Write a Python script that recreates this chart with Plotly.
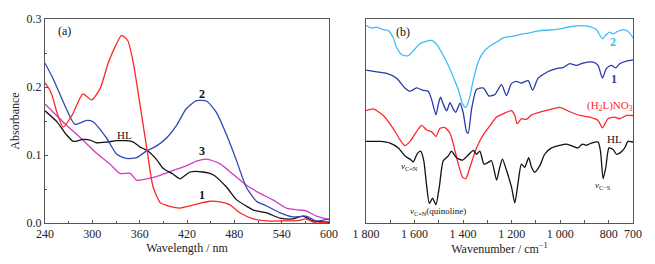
import plotly.graph_objects as go

# ---------- Panel (a): UV-Vis ----------
wl_1 = [240,246,250,255,263,275,288,299,310,320,330,337,345,352,360,369,377,386,394,411,436,449,462,474,487,504,521,540,563,570,584,600]
abs_1 = [0.206,0.196,0.184,0.163,0.141,0.160,0.190,0.181,0.198,0.235,0.262,0.276,0.268,0.235,0.177,0.110,0.053,0.030,0.026,0.022,0.029,0.032,0.031,0.027,0.015,0.006,0.003,0.003,0.004,0.006,0.000,0.002]

wl_2 = [240,250,267,278,293,301,318,331,343,356,369,381,394,407,419,432,445,457,470,483,495,508,521,538,554,571,584,600]
abs_2 = [0.235,0.213,0.168,0.145,0.151,0.149,0.125,0.101,0.095,0.096,0.106,0.113,0.125,0.144,0.168,0.180,0.179,0.163,0.130,0.091,0.053,0.032,0.025,0.015,0.009,0.010,0.003,0.006]

wl_hl = [240,255,267,276,288,297,305,318,331,343,352,360,369,381,390,402,411,424,440,453,470,483,495,504,521,538,554,567,580,600]
abs_hl = [0.165,0.149,0.130,0.120,0.123,0.122,0.118,0.119,0.121,0.121,0.119,0.112,0.107,0.094,0.080,0.072,0.065,0.075,0.075,0.071,0.053,0.034,0.025,0.019,0.015,0.007,0.006,0.010,0.003,0.001]

wl_3 = [240,267,288,305,322,335,348,356,369,386,402,419,432,445,462,478,495,512,529,546,563,571,584,600]
abs_3 = [0.175,0.144,0.122,0.103,0.087,0.073,0.073,0.063,0.065,0.070,0.077,0.084,0.091,0.094,0.087,0.072,0.056,0.044,0.034,0.022,0.019,0.018,0.010,0.005]

# ---------- Panel (b): IR (offset transmittance, arbitrary units) ----------
wn_c2 = [1800,1777,1756,1729,1708,1688,1674,1653,1626,1605,1578,1557,1530,1509,1489,1461,1441,1420,1402,1389,1375,1358,1338,1317,1290,1262,1235,1194,1153,1125,1084,1043,1002,961,919,878,851,826,810,796,782,762,741,721,700]
tr_c2 = [96.8,95.6,96.0,94.8,94.3,90.8,86.0,82.5,82.0,84.4,87.9,88.9,89.5,87.6,83.7,77.3,71.7,65.4,58.3,56.7,60.6,70.2,78.9,83.7,86.8,88.7,90.8,91.6,92.7,93.2,94.3,94.6,95.2,96.2,96.8,96.3,94.8,90.3,92.4,93.6,92.7,94.0,94.8,94.0,90.8]

wn_c1 = [1800,1756,1715,1674,1640,1619,1592,1564,1544,1530,1512,1502,1493,1482,1468,1454,1441,1430,1413,1400,1386,1379,1365,1345,1317,1293,1269,1242,1221,1201,1180,1160,1132,1114,1091,1064,1036,1016,988,961,933,906,865,844,826,810,789,771,755,727,700]
tr_c1 = [74.9,74.1,73.3,71.0,66.2,64.6,66.2,65.0,64.6,60.6,53.0,58.3,61.7,58.3,55.0,59.0,55.9,54.3,58.7,54.3,44.8,44.0,55.9,65.4,66.2,62.2,63.0,67.8,62.5,68.3,69.4,68.6,69.8,65.1,71.0,73.3,74.9,75.7,76.2,78.1,77.3,78.4,78.9,77.3,71.0,75.7,77.3,76.0,78.1,79.4,80.0]

wn_h2l = [1800,1770,1729,1688,1660,1640,1619,1592,1571,1550,1530,1512,1496,1475,1454,1438,1420,1402,1389,1372,1345,1317,1290,1262,1235,1201,1187,1177,1160,1139,1118,1084,1043,1002,961,919,878,844,826,803,776,755,727,700]
tr_h2l = [55.1,55.9,52.7,46.3,40.8,37.9,40.0,44.8,47.9,45.6,44.8,42.4,46.3,46.8,44.0,37.6,28.9,22.5,21.7,27.3,36.8,43.2,47.6,51.9,53.5,55.1,52.7,48.7,51.1,50.8,53.0,54.3,55.6,56.7,54.6,52.7,51.9,50.3,46.7,51.1,51.9,51.1,52.7,52.7]

wn_hl = [1800,1742,1701,1667,1640,1619,1605,1589,1575,1562,1550,1539,1526,1512,1498,1482,1461,1448,1427,1402,1379,1358,1345,1331,1314,1297,1283,1262,1249,1238,1221,1201,1187,1173,1160,1146,1130,1118,1105,1084,1064,1036,1002,974,947,926,909,892,871,844,834,823,812,799,782,768,752,734,721,700]
tr_hl = [40.0,40.0,39.2,36.8,32.9,31.3,30.0,34.0,35.2,30.5,17.8,9.5,12.2,9.0,17.8,30.5,32.9,35.2,32.0,30.8,33.3,35.6,33.7,35.2,28.9,29.7,30.5,21.0,27.3,31.3,25.7,17.8,9.8,20.2,28.9,27.3,32.0,27.3,24.9,28.1,33.7,36.8,38.1,38.7,37.6,36.8,38.7,38.1,39.2,39.7,35.2,21.7,27.3,36.8,36.0,33.7,34.5,36.8,40.0,39.7]

FONT = "Liberation Serif"
fig = go.Figure()

def add(x, y, color, xa, ya, w=1.3):
    fig.add_trace(go.Scatter(x=x, y=y, mode="lines", xaxis=xa, yaxis=ya,
                             line=dict(color=color, width=w, shape="spline", smoothing=0.6),
                             showlegend=False, hoverinfo="skip"))

add(wl_3, abs_3, "#d23cc3", "x", "y")
add(wl_hl, abs_hl, "#111111", "x", "y")
add(wl_2, abs_2, "#3048b0", "x", "y")
add(wl_1, abs_1, "#ff2525", "x", "y")

add(wn_c2, tr_c2, "#3fbfef", "x2", "y2")
add(wn_c1, tr_c1, "#2a3aa5", "x2", "y2")
add(wn_h2l, tr_h2l, "#ff2828", "x2", "y2")
add(wn_hl, tr_hl, "#111111", "x2", "y2")

axcommon = dict(showline=True, linecolor="#555555", linewidth=1, mirror=True,
                showgrid=False, zeroline=False,
                tickfont=dict(family=FONT, size=12, color="#222"))

fig.update_layout(
    width=655, height=264,
    margin=dict(l=45, r=22, t=14, b=40),
    plot_bgcolor="white", paper_bgcolor="white",
    font=dict(family=FONT, size=12, color="#222"),
    xaxis=dict(domain=[0, 0.483], range=[240, 600], tickvals=[240,300,360,420,480,540,600],
               ticks="inside", ticklen=3, tickcolor="#555",
               minor=dict(tickvals=[270,330,390,450,510,570], ticks="inside", ticklen=2, tickcolor="#555"),
               title=dict(text="Wavelength / nm", font=dict(family=FONT, size=12), standoff=2),
               **axcommon),
    yaxis=dict(domain=[0, 1], range=[0, 0.3], tickvals=[0.0,0.1,0.2,0.3],
               ticktext=["0.0","0.1","0.2","0.3"],
               ticks="inside", ticklen=3, tickcolor="#555",
               minor=dict(tickvals=[0.05,0.15,0.25], ticks="inside", ticklen=2, tickcolor="#555"),
               title=dict(text="Absorbance", font=dict(family=FONT, size=12), standoff=4),
               **axcommon),
    xaxis2=dict(domain=[0.546, 1.0], range=[1800, 700], anchor="y2",
                tickvals=[1800,1600,1400,1200,1000,800,700],
                ticktext=["1 800","1 600","1 400","1 200","1 000","800","700"],
                ticks="inside", ticklen=3, tickcolor="#555",
                minor=dict(tickvals=[1700,1500,1300,1100,900], ticks="inside", ticklen=3, tickcolor="#555"),
                title=dict(text="Wavenumber / cm<sup>−1</sup>", font=dict(family=FONT, size=12), standoff=2),
                **axcommon),
    yaxis2=dict(domain=[0, 1], range=[0, 100], anchor="x2", showticklabels=False, ticks="",
                **axcommon),
)

def ann(text, x, y, xref, yref, color="#111", size=12, bold=False):
    fig.add_annotation(text=(f"<b>{text}</b>" if bold else text), x=x, y=y, xref=xref, yref=yref,
                       showarrow=False, font=dict(family=FONT, size=size, color=color))

ann("(a)", 265, 0.283, "x", "y")
ann("2", 439, 0.189, "x", "y", bold=True)
ann("HL", 341, 0.130, "x", "y", size=11)
ann("3", 439, 0.106, "x", "y", bold=True)
ann("1", 439, 0.041, "x", "y", bold=True)

ann("(b)", 1648, 93.8, "x2", "y2")
ann("2", 782, 88.6, "x2", "y2", color="#3fbfef", bold=True)
ann("1", 778, 70.5, "x2", "y2", color="#2a3aa5", bold=True)
ann("(H<sub>2</sub>L)NO<sub>3</sub>", 795, 57.6, "x2", "y2", color="#ff2828", size=11)
ann("HL", 778, 41.4, "x2", "y2", size=11)
ann("<i>ν</i><sub>C=N</sub>", 1619, 27.6, "x2", "y2", size=9)
ann("<i>ν</i><sub>C=N</sub>(quinoline)", 1503, 5.7, "x2", "y2", size=9)
ann("<i>ν</i><sub>C−S</sub>", 824, 18.6, "x2", "y2", size=9)

# remove the browser's default 8px body margin so the 655x264 figure fills the window exactly
fig.write_html("out.html", config={"displayModeBar": False},
               post_script="document.body.style.margin='0';document.body.style.padding='0';")
